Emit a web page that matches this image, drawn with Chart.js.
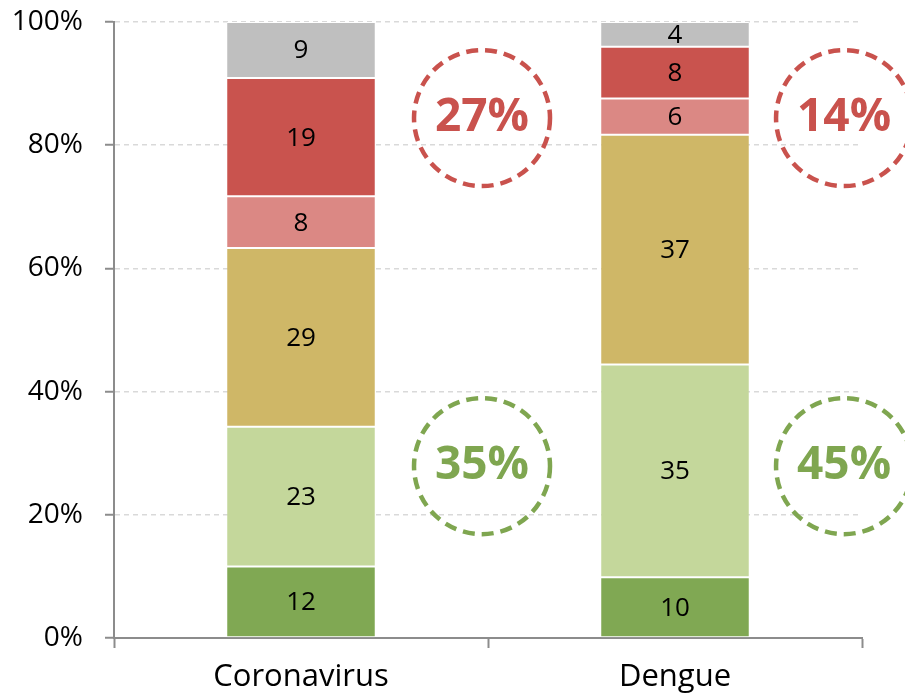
<!DOCTYPE html>
<html>
<head>
<meta charset="utf-8">
<script src="https://cdn.jsdelivr.net/npm/chart.js@4"></script>
<style>
html,body{margin:0;padding:0;background:#fff;}
#wrap{width:905px;height:695px;position:relative;}
</style>
</head>
<body>
<div id="wrap"><canvas id="c" width="905" height="695"></canvas></div>
<script>
// ---- Data (shares in %; labels show rounded values) ----
const categories = ["Coronavirus", "Dengue"];
const seriesDarkGreen  = [11.6, 9.85];
const seriesLightGreen = [22.7, 34.55];
const seriesGold       = [29.0, 37.3];
const seriesLightRed   = [8.4, 5.9];
const seriesRed        = [19.2, 8.4];
const seriesGray       = [9.1, 4.0];
const yTicks = [0, 20, 40, 60, 80, 100];

// summary annotations (sum of the rounded segment labels)
const r = v => Math.round(v);
const redTotals   = categories.map((_, i) => r(seriesLightRed[i]) + r(seriesRed[i]));
const greenTotals = categories.map((_, i) => r(seriesDarkGreen[i]) + r(seriesLightGreen[i]));

const FONT = "'Open Sans', 'Noto Sans', sans-serif";
const colors = {
  darkGreen: '#80a853', lightGreen: '#c4d79b', gold: '#cfb767',
  lightRed: '#db8884', red: '#c9534e', gray: '#bfbfbf'
};

function ds(data, color) {
  return {
    data: data, backgroundColor: color, borderColor: '#ffffff',
    borderWidth: {top: 1, bottom: 1, left: 0, right: 0}, borderSkipped: false,
    barPercentage: 0.395, categoryPercentage: 1.0
  };
}

const valueLabels = {
  id: 'valueLabels',
  afterDatasetsDraw(chart) {
    const ctx = chart.ctx;
    ctx.save();
    ctx.fillStyle = '#000';
    ctx.font = '26px ' + FONT;
    ctx.textAlign = 'center';
    ctx.textBaseline = 'middle';
    chart.data.datasets.forEach((d, di) => {
      const meta = chart.getDatasetMeta(di);
      meta.data.forEach((el, i) => {
        const cy = (el.y + el.base) / 2;
        ctx.fillText(String(Math.round(d.data[i])), el.x, cy + 1);
      });
    });
    ctx.restore();
  }
};

const circles = {
  id: 'circles',
  afterDraw(chart) {
    const ctx = chart.ctx;
    const xs = chart.scales.x, ys = chart.scales.y;
    const offsets = [0.484, 0.452];
    const items = [];
    categories.forEach((c, i) => {
      items.push({x: i + offsets[i], y: 84.4, text: redTotals[i] + '%', color: '#c9524d'});
      items.push({x: i + offsets[i], y: 27.9, text: greenTotals[i] + '%', color: '#7fa650'});
    });
    items.forEach(it => {
      const px = xs.getPixelForValue(it.x);
      const py = ys.getPixelForValue(it.y);
      ctx.save();
      ctx.strokeStyle = it.color;
      ctx.lineWidth = 4.5;
      ctx.setLineDash([12, 7]);
      ctx.beginPath();
      ctx.arc(px, py, 68, 0, Math.PI * 2);
      ctx.stroke();
      ctx.setLineDash([]);
      ctx.fillStyle = it.color;
      ctx.font = 'bold 46px ' + FONT;
      ctx.textAlign = 'center';
      ctx.textBaseline = 'middle';
      ctx.fillText(it.text, px, py);
      ctx.restore();
    });
  }
};

new Chart(document.getElementById('c'), {
  type: 'bar',
  data: {
    labels: categories,
    datasets: [
      ds(seriesDarkGreen, colors.darkGreen),
      ds(seriesLightGreen, colors.lightGreen),
      ds(seriesGold, colors.gold),
      ds(seriesLightRed, colors.lightRed),
      ds(seriesRed, colors.red),
      ds(seriesGray, colors.gray)
    ]
  },
  options: {
    responsive: false,
    animation: false,
    layout: {padding: {top: 22, right: 43, left: 0, bottom: 0}},
    plugins: {legend: {display: false}, tooltip: {enabled: false}},
    scales: {
      x: {
        stacked: true,
        grid: {display: true, drawOnChartArea: false, drawTicks: true, tickLength: 10, tickColor: '#8c8c8c', tickWidth: 2, offset: true},
        border: {display: true, color: '#8c8c8c', width: 2},
        ticks: {color: '#000', font: {family: FONT, size: 31}, padding: 11},
        afterFit(s) { s.height = 57; }
      },
      y: {
        stacked: true,
        min: 0, max: 100,
        afterBuildTicks(s) { s.ticks = yTicks.map(v => ({value: v})); },
        grid: {color: '#d9d9d9', lineWidth: 1.5, drawTicks: true, tickLength: 9, tickColor: '#8c8c8c', tickWidth: 2},
        border: {display: true, color: '#8c8c8c', width: 2, dash: [5, 4]},
        ticks: {color: '#000', font: {family: FONT, size: 28}, padding: 22, callback: v => v + '%'},
        afterFit(s) { s.width = 114; s.paddingTop = 0; s.paddingBottom = 0; }
      }
    }
  },
  plugins: [valueLabels, circles]
});
</script>
</body>
</html>
